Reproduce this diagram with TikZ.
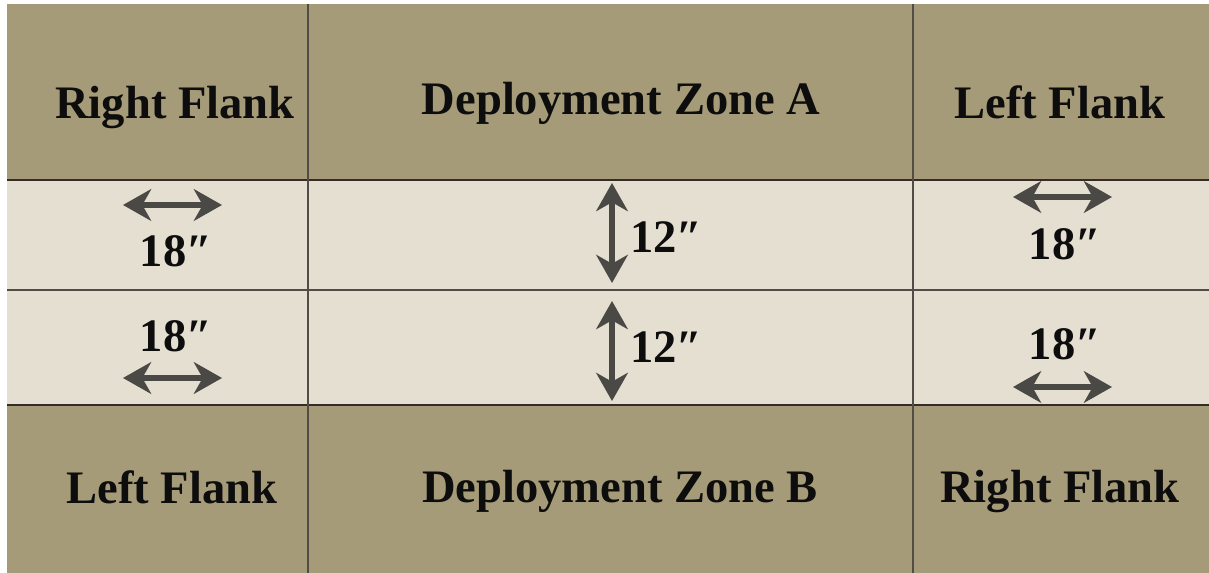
\documentclass[tikz,border=0pt]{standalone}
\usepackage{fontspec}
\setmainfont{Liberation Serif}
\usepackage{tikz}
\usetikzlibrary{arrows.meta}
\definecolor{boardtan}{HTML}{A69B78}
\definecolor{bandcream}{HTML}{E4DFD0}
\definecolor{edgeink}{HTML}{332D25}
\definecolor{arrowgrey}{HTML}{4A4946}
\tikzset{
		zone label/.style={
			font=\fontsize{26.5}{30}\selectfont\bfseries,
			text=black!95,
			inner sep=0pt,
			anchor=base
		},
		size label/.style={
			zone label
		},
		board line/.style={
			draw=edgeink,
			line width=1.5pt
		},
		seam line/.style={
			draw=edgeink!85,
			line width=1pt
		},
		measure/.style={
			draw=arrowgrey,
			line width=3pt,
			{Stealth[length=16pt, width=18pt, inset=5pt]}-{Stealth[length=16pt, width=18pt, inset=5pt]}
		}
	}
\begin{document}
\begin{tikzpicture}[x=0.02cm, y=-0.02cm]
			\useasboundingbox [fill=white] (0,0) rectangle (1209,573);
			% board and the no man's land band
			\fill [boardtan] (7,4) rectangle (1209,573);
			\fill [bandcream] (7,180) rectangle (1209,405);
			\draw [board line] (7,180) -- (1209,180);
			\draw [seam line] (7,290) -- (1209,290);
			\draw [board line] (7,405) -- (1209,405);
			\draw [seam line] (308,4) -- (308,573);
			\draw [seam line] (913,4) -- (913,573);
			% zone names
			\node (rf-a) [zone label] at (175,119) {Right Flank};
			\node (dz-a) [zone label] at (621,115) {Deployment Zone A};
			\node (lf-a) [zone label] at (1060,119) {Left Flank};
			\node (lf-b) [zone label] at (172,503) {Left Flank};
			\node (dz-b) [zone label] at (620,502) {Deployment Zone B};
			\node (rf-b) [zone label] at (1060,502) {Right Flank};
			% distances
			\node (w-a1) [size label] at (176,267) {18″};
			\node (w-b1) [size label] at (176,352) {18″};
			\node (w-a2) [size label] at (1065,260) {18″};
			\node (w-b2) [size label] at (1065,360) {18″};
			\node (d-a) [size label, anchor=base west] at (630,253) {12″};
			\node (d-b) [size label, anchor=base west] at (630,363) {12″};
			\draw [measure] (123,205) -- (222,205);
			\draw [measure] (123,378) -- (222,378);
			\draw [measure] (1013,197) -- (1112,197);
			\draw [measure] (1013,387) -- (1112,387);
			\draw [measure] (612,183) -- (612,283);
			\draw [measure] (612,301) -- (612,401);
			\end{tikzpicture}
\end{document}
